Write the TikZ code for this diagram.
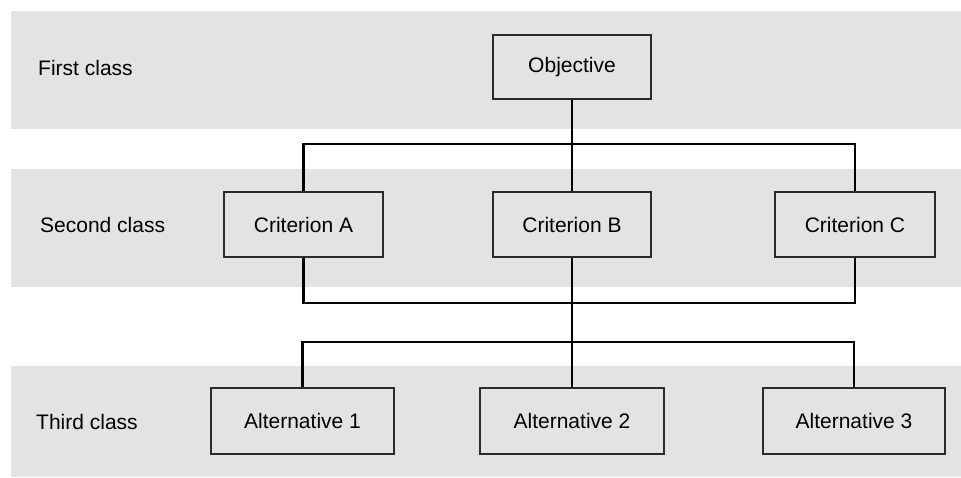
\documentclass[tikz,border=0pt]{standalone}
\usepackage{fontspec}
\setmainfont{Liberation Sans}
\definecolor{bandgray}{HTML}{E3E3E3}
\definecolor{boxline}{HTML}{2A2A2A}
\tikzset{
  band/.style={fill=bandgray, draw=none},
  block/.style={draw=boxline, line width=2.2pt, fill=bandgray, inner sep=0pt,
    font=\fontsize{21}{25}\selectfont},
  level/.style={anchor=west, inner sep=0pt, font=\fontsize{21}{25}\selectfont},
  link/.style={line width=2.8pt, black}
}

\begin{document}
\begin{tikzpicture}[x=1pt,y=-1pt]
            \useasboundingbox (0,0) rectangle (961,477);
            % Bands
            \fill[band] (11,11) rectangle (961,129);
            \fill[band] (11,169) rectangle (961,287);
            \fill[band] (11,366) rectangle (961,477);
            % Class labels
            \node[level] (lvl1) at (38,68) {First class};
            \node[level] (lvl2) at (40,225) {Second class};
            \node[level] (lvl3) at (36,422) {Third class};
            % First class
            \node[block, minimum width=158pt, minimum height=64pt] (obj) at (572,67) {Objective};
            % Second class
            \node[block, minimum width=159pt, minimum height=65pt] (critA) at (303.5,224.5) {Criterion A};
            \node[block, minimum width=158pt, minimum height=65pt] (critB) at (572,224.5) {Criterion B};
            \node[block, minimum width=160pt, minimum height=65pt] (critC) at (855,224.5) {Criterion C};
            % Third class
            \node[block, minimum width=183pt, minimum height=66pt] (alt1) at (302.5,421) {Alternative 1};
            \node[block, minimum width=184pt, minimum height=66pt] (alt2) at (572,421) {Alternative 2};
            \node[block, minimum width=182pt, minimum height=66pt] (alt3) at (854,421) {Alternative 3};
            % Connectors
            \coordinate (bus1) at (572,144);
            \coordinate (bus2) at (572,303);
            \coordinate (bus3) at (572,342);
            \draw[link] (obj.south) -- (critB.north);
            \draw[link] (critA.north) |- (bus1) -| (critC.north);
            \draw[link] (critA.south) |- (bus2) -| (critC.south);
            \draw[link] (critB.south) -- (alt2.north);
            \draw[link] (alt1.north) |- (bus3) -| (alt3.north);
        \end{tikzpicture}
\end{document}
